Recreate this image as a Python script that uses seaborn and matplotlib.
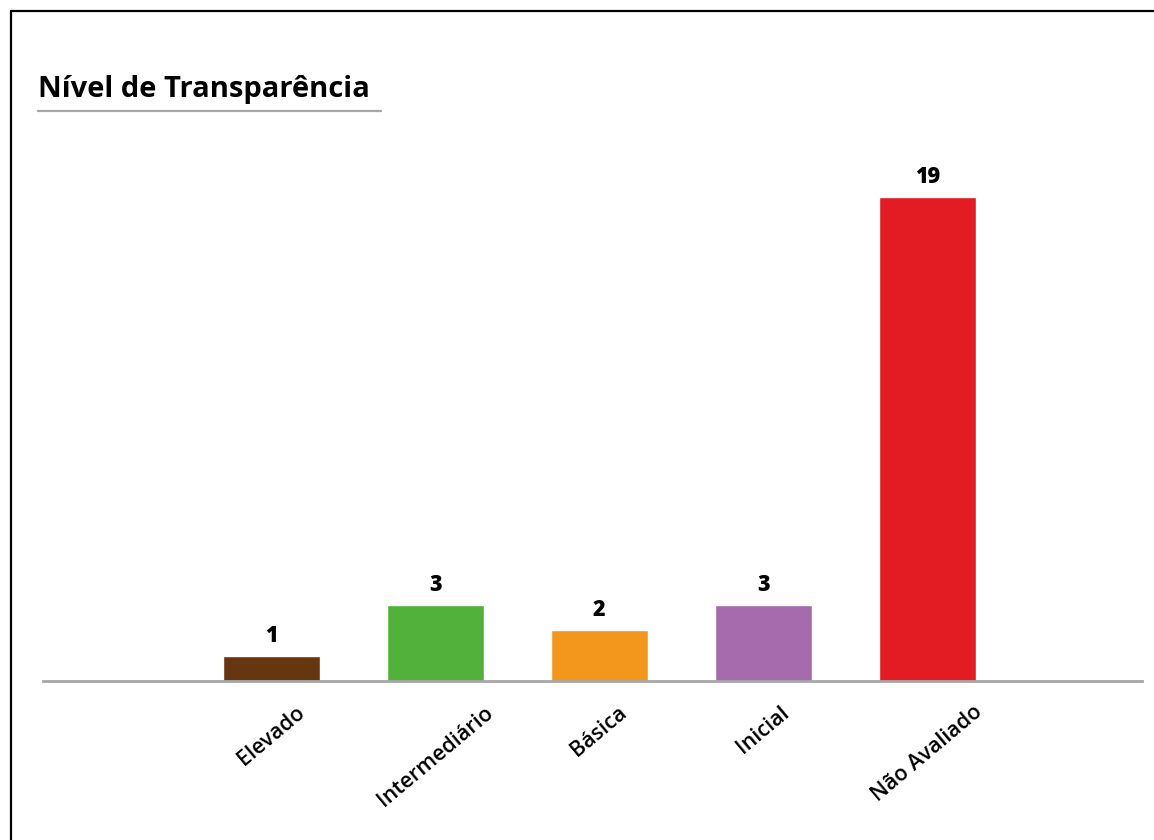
import matplotlib
matplotlib.use("Agg")
import matplotlib.pyplot as plt
import seaborn as sns
from matplotlib.lines import Line2D

niveis = ["Elevado", "Intermediário", "Básica", "Inicial", "Não Avaliado"]
quantidade = [1, 3, 2, 3, 19]
cores = ["#653610", "#52B13A", "#F3961C", "#A56BAC", "#E31B23"]

sns.set_style("white")
plt.rcParams['font.family'] = ['Open Sans', 'DejaVu Sans']

fig = plt.figure(figsize=(11.54, 8.4), dpi=100)
ax = fig.add_axes([43 / 1154, 159 / 840, (1142 - 43) / 1154, (681 - 150) / 840])

sns.barplot(x=niveis, y=quantidade, hue=niveis, palette=cores, legend=False,
            width=0.59, saturation=1, ax=ax)

for i, v in enumerate(quantidade):
    ax.text(i, v + 0.3, str(v), ha="center", va="bottom",
            fontsize=15.5, fontweight="heavy", color="black")

ax.set_xlim(-1.393, 5.31)
ax.set_ylim(0, 531 / 25.47)
for s in ["top", "left", "right"]:
    ax.spines[s].set_visible(False)
ax.spines["bottom"].set_color("#a6a6a6")
ax.spines["bottom"].set_linewidth(2)
ax.set_yticks([])
ax.set_xlabel("")
ax.set_ylabel("")
ax.tick_params(axis="x", length=0, pad=15)
plt.setp(ax.get_xticklabels(), rotation=40, ha="center", va="top",
         fontsize=15.5, fontweight="semibold", color="black")

# title and underline
fig.text(38 / 1154, 1 - 90 / 840, "Nível de Transparência", ha="left", va="center",
         fontsize=21, fontweight="bold", color="black")
fig.add_artist(Line2D([38 / 1154, 381 / 1154], [1 - 111 / 840, 1 - 111 / 840],
                      color="#a6a6a6", linewidth=1.6, transform=fig.transFigure))

# frame lines (left and top)
fig.add_artist(Line2D([10.5 / 1154, 10.5 / 1154], [0, 1 - 10.5 / 840],
                      color="black", linewidth=1.6, transform=fig.transFigure))
fig.add_artist(Line2D([10.5 / 1154, 1], [1 - 10.5 / 840, 1 - 10.5 / 840],
                      color="black", linewidth=1.6, transform=fig.transFigure))

fig.savefig("out.png", dpi=100)
